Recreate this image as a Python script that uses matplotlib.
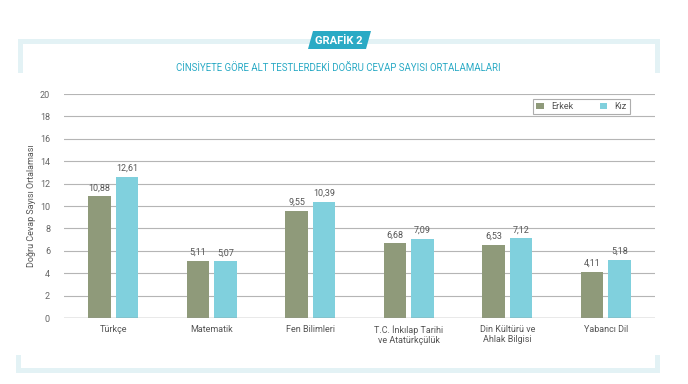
import matplotlib.pyplot as plt
from matplotlib.patches import Polygon, Rectangle
import numpy as np

categories = ['Türkçe', 'Matematik', 'Fen Bilimleri', 'T.C. İnkılap Tarihi\nve Atatürkçülük',
              'Din Kültürü ve\nAhlak Bilgisi', 'Yabancı Dil']
erkek = [10.88, 5.11, 9.55, 6.68, 6.53, 4.11]
kiz = [12.61, 5.07, 10.39, 7.09, 7.12, 5.18]
yticks = list(range(0, 21, 2))

green = '#8f9a7a'
blue = '#80d0dd'
frame = '#e3f2f5'
teal = '#2aaac5'

W, H = 688, 384
fig = plt.figure(figsize=(W / 100, H / 100), dpi=100)
plt.rcParams['font.family'] = ['Roboto', 'DejaVu Sans']


def px(x, y, w, h):
    # pixel box (top-left origin) -> figure fraction
    return [x / W, 1 - (y + h) / H, w / W, h / H]


# decorative frame
bg = fig.add_axes([0, 0, 1, 1])
bg.set_xlim(0, W)
bg.set_ylim(H, 0)
bg.axis('off')
bg.add_patch(Rectangle((18, 39), 642, 5, color=frame, lw=0))
bg.add_patch(Rectangle((18, 39), 5, 34, color=frame, lw=0))
bg.add_patch(Rectangle((655, 39), 5, 34, color=frame, lw=0))
bg.add_patch(Rectangle((16, 368), 644, 5, color=frame, lw=0))
bg.add_patch(Rectangle((16, 355), 5, 18, color=frame, lw=0))
bg.add_patch(Rectangle((655, 355), 5, 18, color=frame, lw=0))
bg.add_patch(Polygon([(313, 31), (371, 31), (366, 49), (308, 49)], color=teal, lw=0))
bg.text(339, 40.5, 'GRAFİK 2', color='white', fontsize=8, fontweight='bold',
        ha='center', va='center')
bg.text(338, 68, 'CİNSİYETE GÖRE ALT TESTLERDEKİ DOĞRU CEVAP SAYISI ORTALAMALARI',
        color=teal, fontsize=6.9, ha='center', va='center')

ax = fig.add_axes(px(64, 94, 591, 224))
x = np.arange(len(categories))
bw = 0.225
off = 0.14
b1 = ax.bar(x - off, erkek, bw, color=green, label='Erkek', zorder=3)
b2 = ax.bar(x + off, kiz, bw, color=blue, label='Kız', zorder=3)
for bars, vals in ((b1, erkek), (b2, kiz)):
    for r, v in zip(bars, vals):
        ax.text(r.get_x() + r.get_width() / 2, v + 0.35, f'{v:.2f}'.replace('.', ','),
                ha='center', va='bottom', fontsize=6.5, color='#555555')

ax.set_xlim(-0.5, len(categories) - 0.5)
ax.set_ylim(0, 20)
ax.set_yticks(yticks)
ax.set_xticks(x)
ax.set_xticklabels(categories, fontsize=6.5, color='#555555', linespacing=1.2)
ax.tick_params(axis='y', labelsize=6.5, labelcolor='#666666', length=0, pad=10)
ax.tick_params(axis='x', length=0, pad=5)
for yv in yticks[1:]:
    ax.axhline(yv, color='#b5b5b5', lw=0.8, zorder=1)
ax.axhline(0, color='#909090', lw=1, zorder=4)
for s in ax.spines.values():
    s.set_visible(False)
ax.set_ylabel('Doğru Cevap Sayısı Ortalaması', fontsize=6.5, color='#555555', labelpad=3)

leg = ax.legend(loc='upper right', bbox_to_anchor=(0.962, 0.99), ncol=2, fontsize=6.5,
                frameon=True, fancybox=False, handlelength=0.8, handleheight=0.8,
                handletextpad=0.8, columnspacing=3.0, borderpad=0.35,
                borderaxespad=0.3)
leg.get_frame().set_edgecolor('#999999')
leg.get_frame().set_linewidth(0.8)
for t in leg.get_texts():
    t.set_color('#555555')

fig.savefig('out.png', dpi=100, facecolor='white')
